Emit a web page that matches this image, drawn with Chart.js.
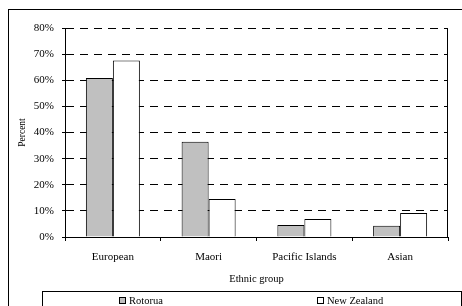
<!DOCTYPE html>
<html>
<head>
<meta charset="utf-8">
<script src="https://cdn.jsdelivr.net/npm/chart.js@4"></script>
<style>
  html, body { margin: 0; padding: 0; background: #fff; }
  canvas { display: block; }
</style>
</head>
<body>
<canvas id="c" width="462" height="306"></canvas>
<script>
const categories = ['European', 'Maori', 'Pacific Islands', 'Asian'];
const rotorua = [60.9, 36.5, 4.6, 4.3];
const newZealand = [67.6, 14.5, 6.9, 9.2];
const seriesNames = ['Rotorua', 'New Zealand'];
const yTickMax = 80;
const yTickStep = 10;

const FONT = '"Liberation Serif", "Times New Roman", serif';

const framePlugin = {
  id: 'frame',
  beforeDraw(chart) {
    const ctx = chart.ctx;
    ctx.save();
    ctx.fillStyle = '#fff';
    ctx.fillRect(0, 0, chart.width, chart.height);
    ctx.strokeStyle = '#000';
    ctx.lineWidth = 1;
    ctx.strokeRect(8.5, 9.5, 480, 320);
    ctx.restore();
  },
  afterDraw(chart) {
    const ctx = chart.ctx;
    const a = chart.chartArea;
    ctx.save();
    ctx.strokeStyle = '#000';
    ctx.lineWidth = 1;
    const rx = Math.round(a.right) - 0.5;
    ctx.beginPath();
    ctx.moveTo(rx, Math.round(a.top));
    ctx.lineTo(rx, Math.round(a.bottom) + 0.5);
    ctx.stroke();

    // legend box
    const lx = 42.5, ly = 291.5, lw = 419;
    ctx.strokeRect(lx, ly, lw, 40);
    ctx.font = '10.5px ' + FONT;
    ctx.textBaseline = 'middle';
    ctx.fillStyle = '#000';
    const ds = chart.data.datasets;
    const colW = lw / ds.length;
    ds.forEach((d, i) => {
      const tw = ctx.measureText(d.label).width;
      const itemW = 6 + 3 + tw;
      const cx = lx + colW * i + colW / 2 - 7;
      const x0 = Math.round(cx - itemW / 2);
      ctx.fillStyle = d.backgroundColor;
      ctx.fillRect(x0 + 0.5, 297.5, 6, 6);
      ctx.strokeStyle = '#000';
      ctx.strokeRect(x0 + 0.5, 297.5, 6, 6);
      ctx.fillStyle = '#000';
      ctx.textAlign = 'left';
      ctx.fillText(d.label, x0 + 10, 301);
    });
    ctx.restore();
  }
};

new Chart(document.getElementById('c'), {
  type: 'bar',
  data: {
    labels: categories,
    datasets: [
      { label: seriesNames[0], data: rotorua, backgroundColor: '#c0c0c0', borderColor: '#000', borderWidth: 1,
        categoryPercentage: 0.564, barPercentage: 1.0 },
      { label: seriesNames[1], data: newZealand, backgroundColor: '#ffffff', borderColor: '#000', borderWidth: 1,
        categoryPercentage: 0.564, barPercentage: 1.0 }
    ]
  },
  options: {
    responsive: false,
    animation: false,
    events: [],
    layout: { padding: { left: 0, right: 14, top: 28, bottom: 0 } },
    plugins: {
      legend: { display: false },
      tooltip: { enabled: false },
      title: { display: false }
    },
    scales: {
      x: {
        offset: true,
        grid: { display: true, drawOnChartArea: false, offset: true, color: '#000', tickLength: 4, lineWidth: 1 },
        border: { display: true, color: '#000', width: 1 },
        ticks: { color: '#000', font: { family: FONT, size: 11 }, padding: 10, maxRotation: 0, autoSkip: false },
        title: { display: true, text: 'Ethnic group', color: '#000', font: { family: FONT, size: 10.5 }, padding: { top: 0, bottom: 20 } },
        afterFit(scale) { scale.height = 69; }
      },
      y: {
        min: 0,
        max: yTickMax,
        grid: { color: '#000', lineWidth: 1, tickLength: 3, tickColor: '#000', tickBorderDash: [] },
        border: { display: true, color: '#000', width: 1, dash: [8, 6] },
        ticks: { stepSize: yTickStep, color: '#000', font: { family: FONT, size: 11 }, padding: 8,
          callback: v => v + '%' },
        title: { display: true, text: 'Percent', color: '#000', font: { family: FONT, size: 9.5 }, padding: { top: 17, bottom: 0 } },
        afterFit(scale) { scale.width = 65; }
      }
    }
  },
  plugins: [framePlugin]
});
</script>
</body>
</html>
